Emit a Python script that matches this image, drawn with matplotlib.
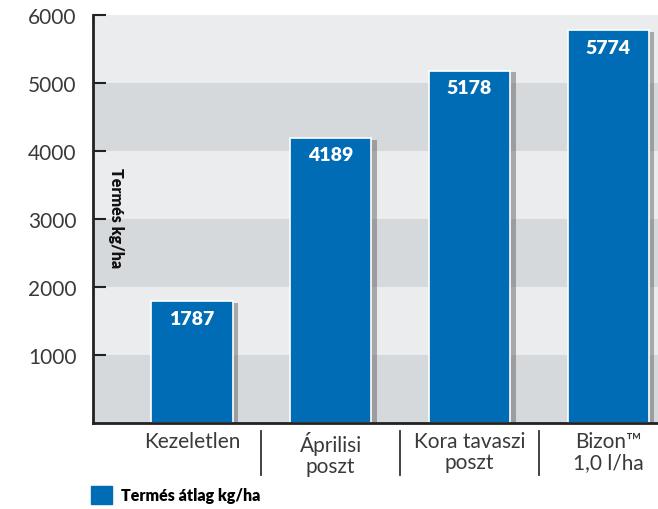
import matplotlib.pyplot as plt
import matplotlib.patheffects as pe
from matplotlib.patches import Patch
import matplotlib.transforms as mtransforms

# adatok
kategoriak = ['Kezeletlen', 'Áprilisi\nposzt', 'Kora tavaszi\nposzt', 'Bizon™\n1,0 l/ha']
termes = [1787, 4189, 5178, 5774]
y_ticks = [1000, 2000, 3000, 4000, 5000, 6000]

kek = '#006cb5'
plt.rcParams['font.family'] = ['Lato', 'DejaVu Sans']

fig = plt.figure(figsize=(6.58, 5.10), dpi=100)
ax = fig.add_axes([93 / 658, 1 - 424 / 510, 1 - 93 / 658, 408 / 510])

# szürke sávok a háttérben
for i in range(6):
    szin = '#d6d9dc' if i % 2 == 0 else '#ebecee'
    ax.axhspan(i * 1000, (i + 1) * 1000, color=szin, zorder=0, lw=0)

x = list(range(len(kategoriak)))
oszlopok = ax.bar(x, termes, width=0.585, color=kek, edgecolor='white', linewidth=1.2, zorder=2)
for o in oszlopok:
    o.set_path_effects([pe.SimplePatchShadow(offset=(4, -1), shadow_rgbFace='#555555', alpha=0.45),
                        pe.Normal()])

for xi, v in zip(x, termes):
    ax.text(xi, v - 120, str(v), ha='center', va='top', color='white',
            fontsize=14, fontweight='heavy', zorder=3)

ax.set_xlim(-0.714, 3.36)
ax.set_ylim(0, 6000)
ax.set_yticks(y_ticks)
ax.set_yticklabels([str(t) for t in y_ticks], fontsize=15, color='#3a3a3a')
ax.tick_params(axis='y', direction='in', length=9, width=1.5, color='#222222', pad=12)
ax.set_xticks(x)
ax.set_xticklabels(kategoriak, fontsize=15, color='#3a3a3a', linespacing=1.05)
ax.tick_params(axis='x', length=0, pad=6)

for s in ['top', 'right']:
    ax.spines[s].set_visible(False)
ax.spines['left'].set_linewidth(2)
ax.spines['left'].set_color('#222222')
ax.spines['bottom'].set_linewidth(2)
ax.spines['bottom'].set_color('#222222')

# függőleges elválasztók a címkék között
trans = mtransforms.blended_transform_factory(ax.transData, ax.transAxes)
for sx in [0.5, 1.5, 2.5]:
    ax.plot([sx, sx], [-0.02, -0.127], transform=trans, color='#333333', lw=1.3, clip_on=False)

ax.text(0.041, 0.505, 'Termés kg/ha', transform=ax.transAxes, rotation=-90,
        ha='center', va='center', fontsize=11.5, fontweight='heavy', color='#111111')

fig.legend(handles=[Patch(color=kek)], labels=['Termés átlag kg/ha'], loc='lower left',
           bbox_to_anchor=(77 / 658, -0.018), frameon=False, handlelength=1.3, handleheight=1.3,
           handletextpad=0.55, prop={'size': 11.5, 'weight': 'heavy'})

fig.savefig('out.png', dpi=100)
